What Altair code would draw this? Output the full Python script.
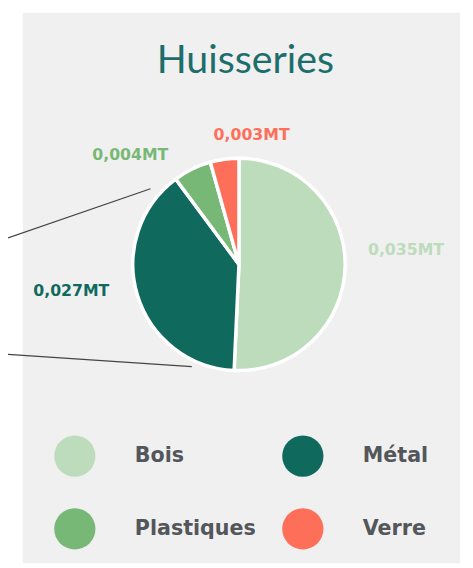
import altair as alt
import pandas as pd

# ---- data ----
categories = ["Bois", "Métal", "Plastiques", "Verre"]
values = [0.035, 0.027, 0.004, 0.003]
value_labels = ["0,035MT", "0,027MT", "0,004MT", "0,003MT"]
colors = ["#bcdcbc", "#10695d", "#78b877", "#fe6f5a"]

# legend reading order (the legend grid fills column by column)
legend_order = ["Bois", "Plastiques", "Métal", "Verre"]

df = pd.DataFrame({
    "cat": categories,
    "value": values,
    "label": value_labels,
    "idx": list(range(len(categories))),
})

palette = dict(zip(categories, colors))

CX, CY = 235, 256          # pie centre (pixels inside the view)
R_OUT = 108
FONT = "DejaVu Sans"

# label placement styling (radius from centre + nudges), per category
label_style = {
    "Bois":       dict(radius=167, dx=3,   dy=-18),
    "Métal":      dict(radius=170, dx=-8,  dy=-22),
    "Plastiques": dict(radius=140, dx=-49, dy=14),
    "Verre":      dict(radius=133, dx=31,  dy=0),
}

one = alt.Data(values=[{}])

panel = alt.Chart(one).mark_rect(color="#f0f0f0").encode(
    x=alt.value(15), x2=alt.value(460), y=alt.value(0), y2=alt.value(560)
)

line1 = alt.Chart(one).mark_rule(color="#444444", strokeWidth=1.2).encode(
    x=alt.value(0), y=alt.value(229), x2=alt.value(145), y2=alt.value(179)
)
line2 = alt.Chart(one).mark_rule(color="#444444", strokeWidth=1.2).encode(
    x=alt.value(0), y=alt.value(347.5), x2=alt.value(187), y2=alt.value(360)
)

pie = alt.Chart(df).mark_arc(
    outerRadius=R_OUT, stroke="white", strokeWidth=3.5
).encode(
    theta=alt.Theta("value:Q", stack=True),
    color=alt.Color(
        "cat:N",
        sort=legend_order,
        scale=alt.Scale(domain=legend_order, range=[palette[c] for c in legend_order]),
        legend=alt.Legend(
            title=None,
            orient="none",
            legendX=47,
            legendY=430,
            columns=2,
            symbolType="circle",
            symbolSize=1764,
            symbolStrokeWidth=0,
            symbolOpacity=1,
            labelFont=FONT,
            labelFontWeight="bold",
            labelFontSize=21,
            labelColor="#53565a",
            labelOffset=40,
            columnPadding=26,
            rowPadding=32,
            padding=0,
        ),
    ),
    order=alt.Order("idx:Q"),
    x=alt.value(CX),
    y=alt.value(CY),
)

text_base = (
    alt.Chart(df)
    .transform_joinaggregate(total="sum(value)")
    .transform_window(cum="sum(value)", sort=[alt.SortField("idx")], frame=[None, 0])
    .transform_calculate(frac="(datum.cum - datum.value / 2) / datum.total")
)

text_layers = []
for c in categories:
    st = label_style[c]
    text_layers.append(
        text_base.transform_filter(alt.datum.cat == c)
        .mark_text(
            radius=st["radius"], dx=st["dx"], dy=st["dy"],
            font=FONT, fontSize=16, fontWeight="bold",
            color=palette[c], align="center", baseline="middle",
        )
        .encode(
            theta=alt.Theta("frac:Q", scale=alt.Scale(domain=[0, 1], range=[0, 6.283185307])),
            text="label:N",
            x=alt.value(CX),
            y=alt.value(CY),
        )
    )

chart = (
    alt.layer(panel, line1, line2, pie, *text_layers)
    .resolve_scale(theta="independent")
    .properties(
        width=465,
        height=560,
        autosize=alt.AutoSizeParams(type="none"),
        padding=0,
        background="white",
        title=alt.TitleParams(
            "Huisseries",
            font="Lato",
            fontSize=40,
            fontWeight="normal",
            color="#1d6e6b",
            anchor="middle",
            orient="top",
            offset=0,
            baseline="alphabetic",
            dx=9,
            dy=101,
        ),
    )
    .configure_view(stroke=None)
)

chart.save("out.html", embed_options={"renderer": "svg", "actions": False})
